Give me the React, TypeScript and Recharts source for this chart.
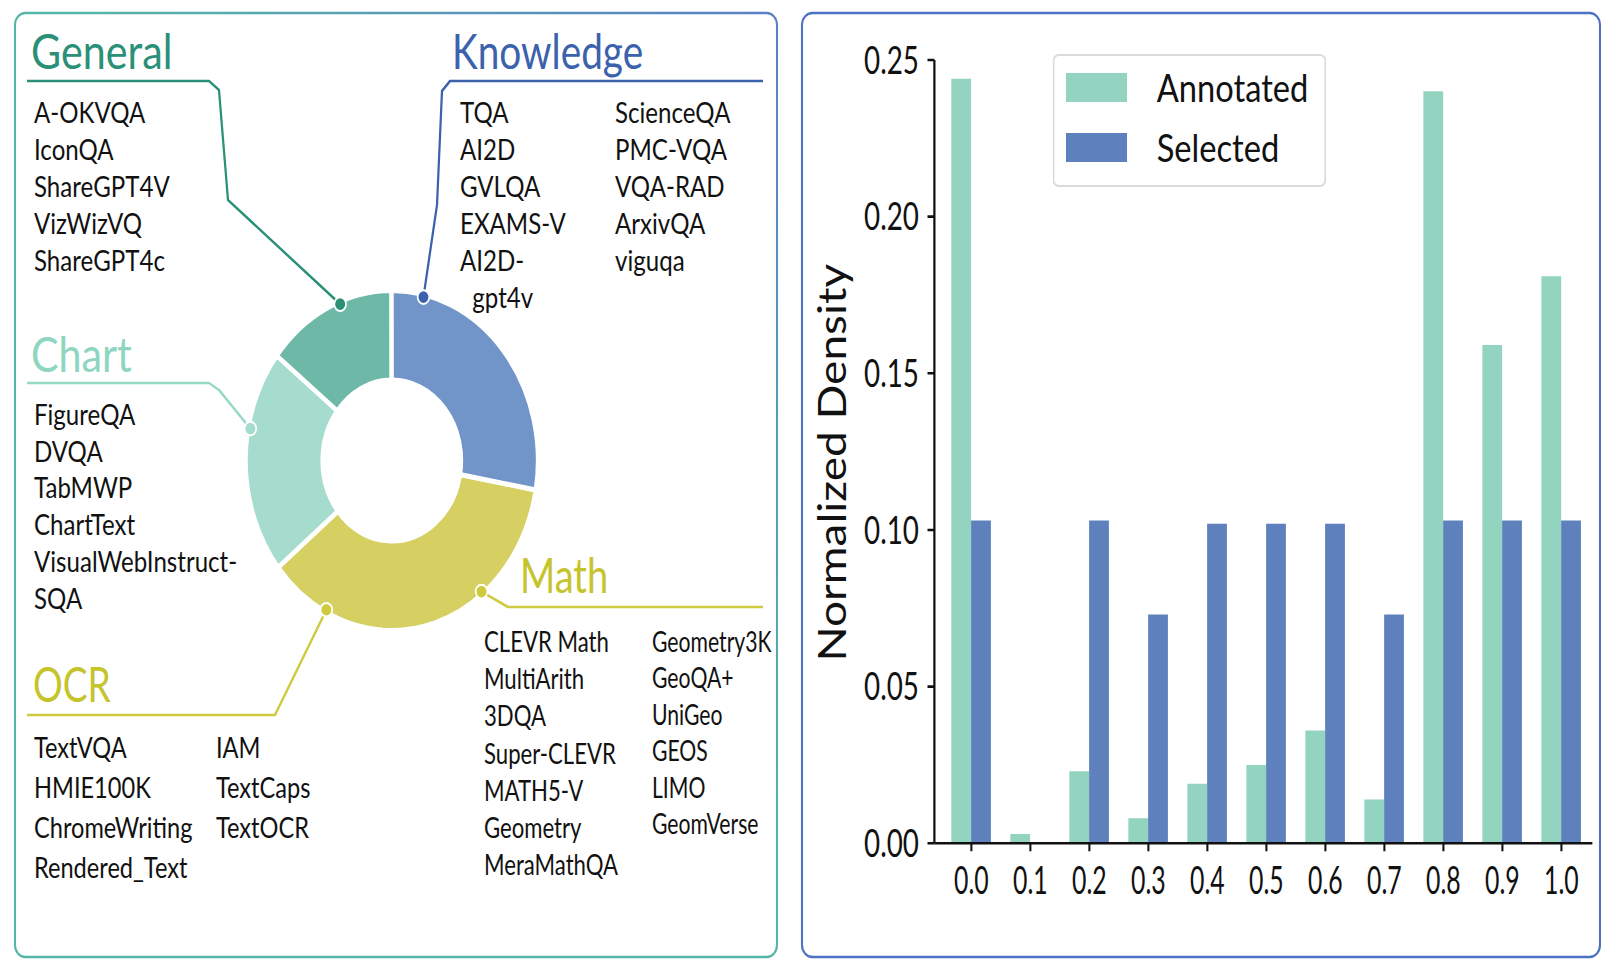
import React from 'react';
import { PieChart, Pie, Cell, BarChart, Bar, XAxis, YAxis, Legend } from 'recharts';

// the whole figure looks squeezed horizontally, so everything is laid out
// in "wide" units and the page is scaled back with scaleX
const SX = 0.86;
const px = (v: number) => v / SX;

const FONT = 'Lato, "DejaVu Sans", sans-serif';
const INK = '#111';

// ---- donut: share of each task group (clockwise, starting after Knowledge)
const GROUPS = ['Math', 'OCR', 'Chart', 'General', 'Knowledge'];
const SHARES = [23.1, 13.3, 21.4, 14.4, 27.8];
const SLICE_COLORS = ['#d6cf62', '#d6cf62', '#a5dccd', '#6db8a7', '#7195c9'];

// ---- dataset names per group
const GENERAL = ['A-OKVQA', 'IconQA', 'ShareGPT4V', 'VizWizVQ', 'ShareGPT4c'];
const KNOWLEDGE_A = ['TQA', 'AI2D', 'GVLQA', 'EXAMS-V', 'AI2D-', '\u00a0\u00a0gpt4v'];
const KNOWLEDGE_B = ['ScienceQA', 'PMC-VQA', 'VQA-RAD', 'ArxivQA', 'viguqa'];
const CHART = ['FigureQA', 'DVQA', 'TabMWP', 'ChartText', 'VisualWebInstruct-', 'SQA'];
const OCR_A = ['TextVQA', 'HMIE100K', 'ChromeWriting', 'Rendered_Text'];
const OCR_B = ['IAM', 'TextCaps', 'TextOCR'];
const MATH_A = ['CLEVR Math', 'MultiArith', '3DQA', 'Super-CLEVR', 'MATH5-V', 'Geometry', 'MeraMathQA'];
const MATH_B = ['Geometry3K', 'GeoQA+', 'UniGeo', 'GEOS', 'LIMO', 'GeomVerse'];

// ---- histogram
const BINS = ['0.0', '0.1', '0.2', '0.3', '0.4', '0.5', '0.6', '0.7', '0.8', '0.9', '1.0'];
const ANNOTATED = [0.244, 0.003, 0.023, 0.008, 0.019, 0.025, 0.036, 0.014, 0.240, 0.159, 0.181];
const SELECTED = [0.103, 0, 0.103, 0.073, 0.102, 0.102, 0.102, 0.073, 0.103, 0.103, 0.103];
const Y_TICKS = [0, 0.05, 0.1, 0.15, 0.2, 0.25];

const pieData = GROUPS.map((name, i) => ({ name, value: SHARES[i] }));
const barData = BINS.map((bin, i) => ({ bin, Annotated: ANNOTATED[i], Selected: SELECTED[i] }));

// donut geometry
const OUTER = 170;
const INNER = 80.5;
const GAP = 5;
const TOTAL = SHARES.reduce((a, b) => a + b, 0);
// Math and OCR share one colour with no separator between them:
// hide the white stroke along their common radial edge
function dashFor(i: number) {
  const a = ((SHARES[i] / TOTAL) * 360 * Math.PI) / 180;
  const lo = OUTER * a;
  const li = INNER * a;
  const rad = OUTER - INNER;
  if (GROUPS[i] === 'Math') return `${lo} ${rad} ${li + rad + 1}`;
  if (GROUPS[i] === 'OCR') return `${lo + rad + li} ${rad + 1}`;
  return undefined;
}

// layout of the left panel (page px); sq = horizontal squeeze of the glyphs
const HEADINGS = [
  { text: 'General', x: 31, y: 68.5, color: '#2a9077', sq: 1 },
  { text: 'Knowledge', x: 452, y: 68.5, color: '#3c62ad', sq: 0.94 },
  { text: 'Chart', x: 31, y: 371.5, color: '#8ed5c2', sq: 1 },
  { text: 'OCR', x: 33, y: 702, color: '#c6c42c', sq: 0.9 },
  { text: 'Math', x: 520, y: 593, color: '#c6c42c', sq: 0.92 },
];
const LISTS = [
  { items: GENERAL, x: 34, y: 123, step: 37, sq: 1 },
  { items: KNOWLEDGE_A, x: 460, y: 123, step: 37, sq: 1 },
  { items: KNOWLEDGE_B, x: 615, y: 123, step: 37, sq: 1 },
  { items: CHART, x: 34, y: 425, step: 36.7, sq: 1 },
  { items: OCR_A, x: 34, y: 758, step: 40, sq: 0.98 },
  { items: OCR_B, x: 216, y: 758, step: 40, sq: 0.98 },
  { items: MATH_A, x: 484, y: 652, step: 37.2, sq: 0.92 },
  { items: MATH_B, x: 652, y: 652, step: 36.4, sq: 0.88 },
];
// dot angle (deg clockwise from 12 o'clock) and elbow points of each leader line
const CALLOUTS: Record<string, { angle: number; color: string; dot: string; pts: number[][] }> = {
  General: { angle: 339, color: '#2a9077', dot: '#2a9077', pts: [[27, 81], [209, 81], [219, 90], [228, 200]] },
  Knowledge: { angle: 12.7, color: '#3c62ad', dot: '#3c62ad', pts: [[763, 81], [450, 81], [442, 91], [437, 205]] },
  Chart: { angle: 281, color: '#96d8c6', dot: '#a5dccd', pts: [[27, 383], [209, 383], [219, 390]] },
  OCR: { angle: 207, color: '#cfcb3e', dot: '#cfcb3e', pts: [[27, 715], [275, 715]] },
  Math: { angle: 141.5, color: '#cfcb3e', dot: '#cfcb3e', pts: [[763, 607], [508, 607]] },
};

function Callout(props: any) {
  const c = CALLOUTS[props.name];
  if (!c) return null;
  const r = props.outerRadius - GAP / 2;
  const a = (c.angle * Math.PI) / 180;
  const dx = props.cx + r * Math.sin(a);
  const dy = props.cy - r * Math.cos(a);
  const pts = c.pts.map(([x, y]) => `${px(x)},${y}`).concat(`${dx},${dy}`).join(' ');
  // cover the anti-aliasing seam between the two yellow slices
  let seam = null;
  if (props.name === 'Math') {
    const e = (-props.endAngle * Math.PI) / 180;
    const r0 = props.innerRadius + GAP / 2;
    const r1 = props.outerRadius - GAP / 2;
    seam = (
      <line x1={props.cx + r0 * Math.cos(e)} y1={props.cy + r0 * Math.sin(e)}
        x2={props.cx + r1 * Math.cos(e)} y2={props.cy + r1 * Math.sin(e)}
        stroke={SLICE_COLORS[0]} strokeWidth={2} />
    );
  }
  return (
    <g>
      {seam}
      <polyline points={pts} fill="none" stroke={c.color} strokeWidth={2.6} strokeLinejoin="round" />
      <circle cx={dx} cy={dy} r={6.8} fill={c.dot} stroke="#fff" strokeWidth={2} />
    </g>
  );
}

function YTick({ x, y, payload }: any) {
  return (
    <text transform={`translate(${x} ${y}) scale(0.85 1)`} dy="0.36em" textAnchor="end" fontFamily={FONT} fontSize={38} fill={INK}>
      {Number(payload.value).toFixed(2)}
    </text>
  );
}

function XTick({ x, y, payload }: any) {
  return (
    <text transform={`translate(${x} ${y}) scale(0.76 1)`} dy="0.72em" textAnchor="middle" fontFamily={FONT} fontSize={38} fill={INK}>
      {payload.value}
    </text>
  );
}

function LegendBox({ payload }: any) {
  return (
    <svg width={318} height={133} style={{ display: 'block' }}>
      <rect x={1} y={1} width={316} height={131} rx={6} fill="#fff" stroke="#dadada" strokeWidth={2} />
      {(payload || []).map((p: any, i: number) => (
        <g key={p.value}>
          <rect x={15.5} y={19 + i * 60} width={71} height={29} fill={p.color} />
          <text x={121} y={47.7 + i * 60} fontFamily={FONT} fontSize={38} fill={INK}>
            {p.value}
          </text>
        </g>
      ))}
    </svg>
  );
}

function YLabel(p: any) {
  const vb = p.viewBox;
  const x = vb.x + 32.6;
  const y = vb.y + vb.height / 2 + 11;
  return (
    <text x={x} y={y} transform={`rotate(-90 ${x} ${y})`} textAnchor="middle" dominantBaseline="central"
      fontFamily={FONT} fontSize={46} fill={INK}>
      Normalized Density
    </text>
  );
}

const W = px(1612);
const CHART_L = px(802);
const CHART_W = px(1600) - CHART_L;

export default function App() {
  return (
    <div style={{ position: 'absolute', left: 0, top: 0, width: 1612, height: 975, background: '#fff', overflow: 'hidden' }}>
      <div style={{ position: 'absolute', left: 0, top: 0, width: W, height: 975, transform: `scaleX(${SX})`, transformOrigin: '0 0' }}>
        <svg width={W} height={975} style={{ position: 'absolute', left: 0, top: 0 }}>
          <defs>
            <linearGradient id="leftBorder" x1="0" y1="1" x2="1" y2="0">
              <stop offset="0.55" stopColor="#56b5a6" />
              <stop offset="1" stopColor="#5a7fc6" />
            </linearGradient>
          </defs>
          <rect x={px(15)} y={13} width={px(777) - px(15)} height={944} rx={12} fill="none" stroke="url(#leftBorder)" strokeWidth={2.4} />
          <rect x={px(802)} y={13} width={px(1600) - px(802)} height={944} rx={12} fill="none" stroke="#4e72c2" strokeWidth={2.4} />
          {HEADINGS.map((h) => (
            <text key={h.text} transform={`translate(${px(h.x)} ${h.y}) scale(${h.sq} 1)`} fontFamily={FONT} fontSize={48} fill={h.color}>
              {h.text}
            </text>
          ))}
          {LISTS.map((l, li) =>
            l.items.map((t, i) => (
              <text key={`${li}-${i}`} transform={`translate(${px(l.x)} ${l.y + i * l.step}) scale(${l.sq} 1)`}
                fontFamily={FONT} fontSize={28} fill={INK}>
                {t}
              </text>
            ))
          )}
        </svg>

        <div style={{ position: 'absolute', left: 0, top: 0 }}>
          <PieChart width={px(790)} height={975}>
            <Pie
              data={pieData}
              dataKey="value"
              nameKey="name"
              cx={px(387.5)}
              cy={455.5}
              innerRadius={INNER}
              outerRadius={OUTER}
              startAngle={-10}
              endAngle={-370}
              stroke="#fff"
              strokeWidth={GAP}
              label={Callout}
              labelLine={false}
              isAnimationActive={false}
            >
              {pieData.map((d, i) => (
                <Cell key={d.name} fill={SLICE_COLORS[i]} stroke="#fff" strokeWidth={GAP} strokeDasharray={dashFor(i)} />
              ))}
            </Pie>
          </PieChart>
        </div>

        <div style={{ position: 'absolute', left: CHART_L, top: 0 }}>
          <BarChart
            width={CHART_W}
            height={940}
            data={barData}
            margin={{ top: 60, right: CHART_W - (px(1592) - CHART_L), bottom: 36.7, left: 0 }}
            barSize={23}
            barGap={0}
          >
            <XAxis
              dataKey="bin"
              interval={0}
              height={60}
              padding={{ left: 8.7, right: 1.7 }}
              axisLine={{ stroke: INK, strokeWidth: 2.4 }}
              tickLine={{ stroke: INK, strokeWidth: 2.4 }}
              tickSize={8}
              tickMargin={15}
              tick={<XTick />}
            />
            <YAxis
              width={153.5}
              domain={[0, 0.25]}
              ticks={Y_TICKS}
              interval={0}
              axisLine={{ stroke: INK, strokeWidth: 2.6 }}
              tickLine={{ stroke: INK, strokeWidth: 2.6 }}
              tickSize={8}
              tickMargin={10}
              tick={<YTick />}
              label={YLabel}
            />
            <Legend
              layout="horizontal"
              verticalAlign="middle"
              align="center"
              content={<LegendBox />}
              wrapperStyle={{ left: 291.5, top: 54, width: 318, height: 133 }}
            />
            <Bar dataKey="Annotated" fill="#93d4c1" isAnimationActive={false} />
            <Bar dataKey="Selected" fill="#5e81be" isAnimationActive={false} />
          </BarChart>
        </div>
      </div>
    </div>
  );
}
